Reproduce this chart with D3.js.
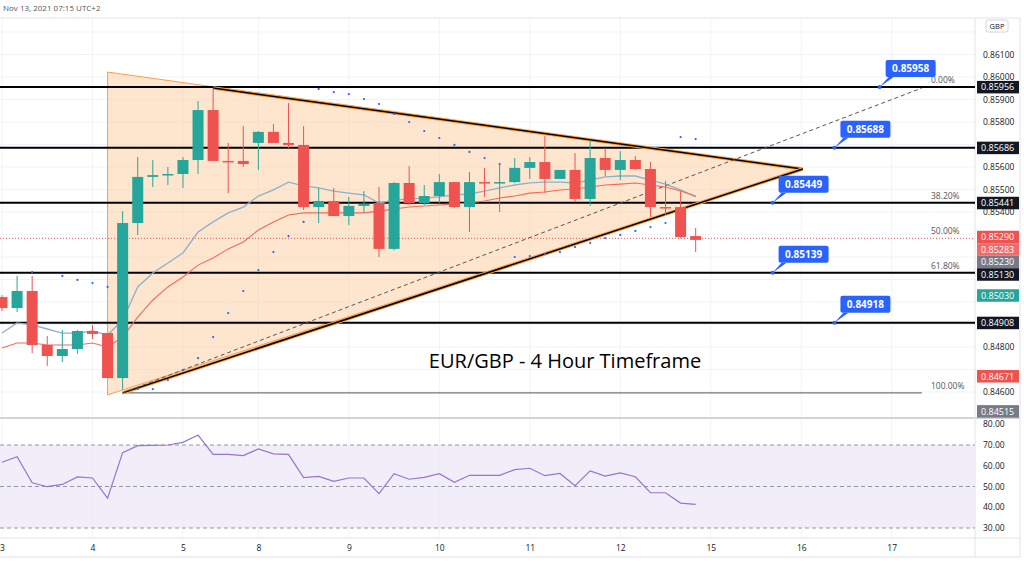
<!DOCTYPE html>
<html>
<head>
<meta charset="utf-8">
<script src="https://cdn.jsdelivr.net/npm/d3@7"></script>
<style>
  body { margin: 0; background: #fff; }
  svg { font-family: "Open Sans", "DejaVu Sans", sans-serif; }
</style>
</head>
<body>
<svg id="chart" width="1024" height="578"></svg>
<script>
// candles, 4H bars, index 0 = first visible bar
const opens  = [0.85022,0.84973,0.85049,0.84809,0.8476,0.84791,0.84871,0.84862,0.84662,0.85351,0.85556,0.85564,0.85569,0.85631,0.85853,0.85627,0.85627,0.85707,0.85756,0.85707,0.85698,0.85422,0.85449,0.85382,0.85427,0.8544,0.85236,0.85529,0.8544,0.85471,0.85533,0.85422,0.85533,0.85529,0.85533,0.85596,0.85622,0.85547,0.85587,0.85458,0.8564,0.85587,0.85631,0.85591,0.85422,0.85422,0.85293];
const highs  = [0.8503,0.85116,0.85116,0.84849,0.84876,0.84876,0.84898,0.84862,0.85404,0.85644,0.85631,0.856,0.85644,0.85893,0.85951,0.85707,0.85782,0.8576,0.85791,0.85884,0.85782,0.85507,0.85507,0.85467,0.85493,0.85511,0.85533,0.85604,0.8552,0.85569,0.85533,0.85578,0.85596,0.85609,0.8564,0.85644,0.85738,0.85587,0.85662,0.8572,0.85684,0.85671,0.85649,0.85622,0.85538,0.85493,0.85329];
const lows   = [0.8496,0.84956,0.84773,0.84716,0.84733,0.8477,0.84836,0.8466,0.8461,0.85298,0.85511,0.8552,0.85507,0.85569,0.85627,0.85484,0.856,0.85587,0.85707,0.85684,0.85409,0.85351,0.85382,0.85342,0.85396,0.852,0.8523,0.85431,0.85431,0.8544,0.85418,0.85311,0.85467,0.854,0.85529,0.85547,0.85484,0.85547,0.85444,0.85427,0.8556,0.85542,0.85587,0.85378,0.85387,0.85284,0.85222];
const closes = [0.84973,0.85049,0.84809,0.8476,0.84791,0.84871,0.84858,0.84662,0.85351,0.85556,0.85564,0.85569,0.85631,0.85853,0.85627,0.85622,0.85613,0.85756,0.85707,0.85698,0.85422,0.85449,0.85382,0.85427,0.85436,0.85236,0.85529,0.8544,0.85471,0.85533,0.85422,0.85533,0.85529,0.85533,0.85596,0.85622,0.85547,0.85587,0.85458,0.8564,0.85587,0.85631,0.85591,0.85422,0.85418,0.85289,0.85276];

const maSlow = [0.84862,0.84907,0.84898,0.8488,0.84862,0.84862,0.84871,0.84853,0.8492,0.85067,0.85129,0.85173,0.85218,0.85311,0.85356,0.85396,0.85422,0.85471,0.85498,0.85533,0.85516,0.85507,0.85493,0.85484,0.85476,0.8544,0.85453,0.85458,0.85462,0.85467,0.85476,0.8548,0.85493,0.85507,0.8552,0.85529,0.85533,0.85533,0.85529,0.85542,0.85556,0.8556,0.8556,0.85542,0.85524,0.85498,0.85467];
const maFast = [0.84796,0.84818,0.84818,0.84809,0.84809,0.84809,0.84818,0.848,0.84844,0.84933,0.85009,0.85067,0.85111,0.85164,0.85196,0.85236,0.85267,0.8532,0.85356,0.85387,0.85396,0.85396,0.85396,0.85396,0.85396,0.85404,0.85413,0.85422,0.85427,0.85431,0.85436,0.8544,0.85449,0.85462,0.85471,0.85484,0.85489,0.85498,0.85502,0.85511,0.8552,0.85524,0.85529,0.8552,0.85511,0.85493,0.85471];
const sar = [null,null,0.85133,null,0.85116,0.85098,0.85084,0.85067,null,0.84613,0.84613,0.84653,0.84698,0.84751,0.84844,0.84951,0.85049,0.85142,0.85222,0.85293,0.85356,0.85947,0.85933,0.85924,0.85902,0.8588,0.85836,0.858,0.8576,0.85729,0.85698,0.85667,0.8564,0.85613,0.852,0.85204,0.85213,0.85222,0.85244,0.85262,0.85284,0.85298,0.85316,0.85333,0.85351,0.85733,0.85724];
const rsi = [61.7,64.4,51.8,49.9,51.0,54.6,54.1,44.4,66.3,69.7,69.8,70,71.3,74.8,65.5,65.5,64.9,68.1,65.7,65.5,54.3,54.9,52.5,54.1,54.1,46.6,56.2,53.5,54.4,56.2,52.0,55.4,55.4,55.4,58.1,58.8,55.2,56.3,50.4,57.5,55,56.6,54.7,47,47,42,41.4];

const dayLabels = ['3','4','5','8','9','10','11','12','15','16','17'];
const dayIndex  = [0,6,12,17,23,29,35,41,47,53,59];
const priceTicks = [0.862,0.861,0.860,0.859,0.858,0.857,0.856,0.855,0.854,0.853,0.852,0.851,0.850,0.849,0.848,0.847,0.846];
const rsiTicks = [80,70,60,50,40,30];

// horizontal levels drawn on the chart
const levels = [0.85956,0.85686,0.85441,0.85130,0.84908];
const fibLevels = [[0.85956,'0.00%'],[0.85441,'38.20%'],[0.85283,'50.00%'],[0.8513,'61.80%'],[0.84596,'100.00%']];
const callouts = [[58.2,0.85956,'0.85958'],[55.2,0.85686,'0.85688'],[51.1,0.85441,'0.85449'],[51.1,0.8513,'0.85139'],[55.2,0.84908,'0.84918']];
const axisTags = [
  [0.85956,'#131722'],[0.85686,'#131722'],[0.85441,'#131722'],[0.8529,'#ef5350'],[0.85283,'#f06a6a'],
  [0.8523,'#787b86'],[0.8513,'#131722'],[0.8503,'#26a69a'],[0.84908,'#131722'],[0.84671,'#ef5350'],[0.84515,'#787b86']
];
// triangle drawing, [index, price]
const triTop = [7,0.86022], triApex = [53.1,0.85591], triBottom = [7,0.84587];
const upperLine = [[14,0.85951],[53.1,0.85591]];
const lowerLine = [[8,0.84596],[53.1,0.85591]];
const dashLine  = [[8,0.84596],[61,0.85951]];

const svg = d3.select('#chart');
const plotRight = 975;
const x = d3.scaleLinear().domain([0, 64]).range([2, 2 + 64 * 15.08]);
const y = d3.scaleLinear().domain([0.846, 0.860]).range([392, 77]);
const yr = d3.scaleLinear().domain([30, 70]).range([528, 445]);
const green = '#26a69a', red = '#ef5350';

svg.append('defs').append('clipPath').attr('id', 'main')
  .append('rect').attr('x', 0).attr('y', 18).attr('width', plotRight).attr('height', 399);

// grid
const grid = svg.append('g').attr('stroke', '#f0f3fa');
grid.selectAll('.gh').data(priceTicks).enter().append('line')
  .attr('x1', 0).attr('x2', plotRight).attr('y1', d => y(d)).attr('y2', d => y(d));
grid.selectAll('.gv').data(dayIndex).enter().append('line')
  .attr('x1', d => x(d)).attr('x2', d => x(d)).attr('y1', 18).attr('y2', 538);
grid.selectAll('.gr').data([60, 40]).enter().append('line')
  .attr('x1', 0).attr('x2', plotRight).attr('y1', d => yr(d)).attr('y2', d => yr(d));

// frames
svg.append('line').attr('x1', 0).attr('x2', 1020).attr('y1', 18).attr('y2', 18).attr('stroke', '#e0e3eb');
svg.append('line').attr('x1', 0).attr('x2', 1020).attr('y1', 418).attr('y2', 418).attr('stroke', '#d1d4dc').attr('stroke-width', 2);
svg.append('line').attr('x1', 0).attr('x2', 1020).attr('y1', 538).attr('y2', 538).attr('stroke', '#e0e3eb');
svg.append('line').attr('x1', 0).attr('x2', 1020).attr('y1', 557).attr('y2', 557).attr('stroke', '#e0e3eb');
svg.append('line').attr('x1', plotRight).attr('x2', plotRight).attr('y1', 18).attr('y2', 557).attr('stroke', '#e0e3eb');
svg.append('line').attr('x1', 1020).attr('x2', 1020).attr('y1', 18).attr('y2', 557).attr('stroke', '#e0e3eb');

const g = svg.append('g').attr('clip-path', 'url(#main)');

// triangle fill
g.append('path')
  .attr('d', d3.line()([triTop, triApex, triBottom].map(p => [x(p[0]), y(p[1])])) + 'Z')
  .attr('fill', '#fbd3ad').attr('fill-opacity', 0.6)
  .attr('stroke', '#f7a04f').attr('stroke-width', 1);

// horizontal levels
g.selectAll('.lvl').data(levels).enter().append('line')
  .attr('x1', 0).attr('x2', plotRight).attr('y1', d => y(d)).attr('y2', d => y(d))
  .attr('stroke', '#000').attr('stroke-width', 2);

// fib labels and lines
g.append('line').attr('x1', x(8)).attr('x2', x(61)).attr('y1', y(0.84596)).attr('y2', y(0.84596))
  .attr('stroke', '#555').attr('stroke-width', 1);
g.append('line').attr('x1', 0).attr('x2', plotRight).attr('y1', y(0.85283)).attr('y2', y(0.85283))
  .attr('stroke', '#ef5350').attr('stroke-dasharray', '1,2');
g.selectAll('.fib').data(fibLevels).enter().append('text')
  .attr('x', x(61.6)).attr('y', d => y(d[0]) - 4)
  .attr('font-size', 8.5).attr('fill', '#555').text(d => d[1]);

// trend lines
const tl = d3.line().x(d => x(d[0])).y(d => y(d[1]));
[upperLine, lowerLine].forEach(l => {
  g.append('path').attr('d', tl(l)).attr('stroke', '#f7a04f').attr('stroke-width', 3.5).attr('fill', 'none');
  g.append('path').attr('d', tl(l)).attr('stroke', '#000').attr('stroke-width', 1.5).attr('fill', 'none');
});
g.append('path').attr('d', tl(dashLine)).attr('stroke', '#555').attr('stroke-dasharray', '4,3').attr('fill', 'none');

// moving averages
const ma = d3.line().x((d, i) => x(i)).y(d => y(d));
g.append('path').attr('d', ma(maSlow)).attr('stroke', '#8fb0cc').attr('stroke-width', 1.3).attr('fill', 'none');
g.append('path').attr('d', ma(maFast)).attr('stroke', '#f26b5b').attr('stroke-width', 1.1).attr('fill', 'none');

// candles
const candles = g.selectAll('.c').data(opens.map((o, i) => ({ i, o, h: highs[i], l: lows[i], c: closes[i] })))
  .enter().append('g');
candles.append('line')
  .attr('x1', d => x(d.i)).attr('x2', d => x(d.i)).attr('y1', d => y(d.h)).attr('y2', d => y(d.l))
  .attr('stroke', d => d.c >= d.o ? green : red);
candles.append('rect')
  .attr('x', d => x(d.i) - 5.5).attr('width', 11)
  .attr('y', d => y(Math.max(d.o, d.c)))
  .attr('height', d => Math.max(1.5, Math.abs(y(d.o) - y(d.c))))
  .attr('fill', d => d.c >= d.o ? green : red);

// parabolic SAR
g.selectAll('.sar').data(sar.map((v, i) => [i, v]).filter(d => d[1] !== null)).enter().append('circle')
  .attr('cx', d => x(d[0])).attr('cy', d => y(d[1])).attr('r', 1.1).attr('fill', '#2962ff');

// callouts
const co = svg.selectAll('.co').data(callouts).enter().append('g')
  .attr('transform', d => `translate(${x(d[0])},${y(d[1])})`);
co.append('path').attr('d', 'M0,0 L9,-10 L14,-10 Z').attr('fill', '#2962ff');
co.append('circle').attr('r', 2).attr('fill', '#2962ff');
co.append('rect').attr('x', 6).attr('y', -27).attr('width', 50).attr('height', 17).attr('rx', 2).attr('fill', '#2962ff');
co.append('text').attr('x', 31).attr('y', -15).attr('text-anchor', 'middle')
  .attr('font-size', 10).attr('font-weight', 'bold').attr('fill', '#fff').text(d => d[2]);

// title
svg.append('text').attr('x', 565).attr('y', 368).attr('text-anchor', 'middle')
  .attr('font-size', 20).attr('fill', '#000').text('EUR/GBP - 4 Hour Timeframe');

// RSI pane
svg.append('rect').attr('x', 0).attr('width', plotRight).attr('y', yr(70)).attr('height', yr(30) - yr(70)).attr('fill', '#ede7f6').attr('fill-opacity', 0.7);
svg.selectAll('.rl').data([70, 50, 30]).enter().append('line')
  .attr('x1', 0).attr('x2', plotRight).attr('y1', d => yr(d)).attr('y2', d => yr(d))
  .attr('stroke', '#9598a1').attr('stroke-dasharray', '4,3');
svg.append('path').attr('d', d3.line().x((d, i) => x(i)).y(d => yr(d))(rsi))
  .attr('stroke', '#9575cd').attr('stroke-width', 1.2).attr('fill', 'none');

// axis price tags, stacked so they don't cover each other
let lastY = -100;
const tagPos = axisTags.map(d => {
  let ty = Math.max(y(d[0]), lastY + 12.5);
  lastY = ty;
  return ty;
});

// axes
const yAxis = svg.append('g').attr('transform', `translate(${plotRight},0)`)
  .call(d3.axisRight(y).tickValues(priceTicks).tickFormat(d3.format('.5f')).tickSize(0).tickPadding(8));
const rAxis = svg.append('g').attr('transform', `translate(${plotRight},0)`)
  .call(d3.axisRight(yr).tickValues(rsiTicks).tickFormat(d3.format('.2f')).tickSize(0).tickPadding(8));
const xAxis = svg.append('g').attr('transform', 'translate(0,538)')
  .call(d3.axisBottom(x).tickValues(dayIndex).tickFormat((d, i) => dayLabels[i]).tickSize(0).tickPadding(7));
[yAxis, rAxis, xAxis].forEach(a => {
  a.select('.domain').remove();
  a.selectAll('text').attr('font-size', 8.5).attr('fill', '#131722').attr('font-family', '"Open Sans", sans-serif');
});
// ticks hidden behind a tag or the GBP badge are dropped
yAxis.selectAll('.tick').filter(d => tagPos.some(t => Math.abs(t - y(d)) < 9) || y(d) < 38).remove();

const tag = svg.selectAll('.tag').data(axisTags).enter().append('g')
  .attr('transform', (d, i) => `translate(${plotRight + 2},${tagPos[i]})`);
tag.append('rect').attr('y', -6).attr('width', 42).attr('height', 12.5).attr('fill', d => d[1]);
tag.append('text').attr('x', 4).attr('y', 3.5).attr('font-size', 9).attr('fill', '#fff').text(d => d[0].toFixed(5));

// header
svg.append('rect').attr('x', 986).attr('y', 20).attr('width', 22).attr('height', 12).attr('rx', 2)
  .attr('fill', '#fff').attr('stroke', '#d1d4dc');
svg.append('text').attr('x', 997).attr('y', 29).attr('text-anchor', 'middle').attr('font-size', 7.5).attr('fill', '#131722').text('GBP');
svg.append('text').attr('x', 3).attr('y', 11).attr('font-size', 8).attr('fill', '#555').text('Nov 13, 2021 07:15 UTC+2');
</script>
</body>
</html>
